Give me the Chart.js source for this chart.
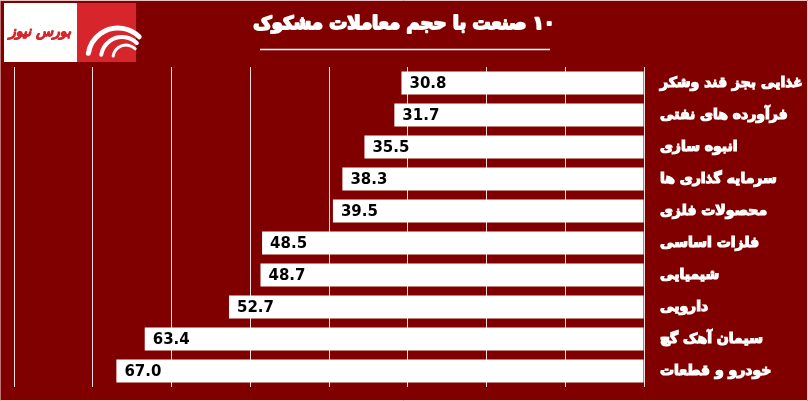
<!DOCTYPE html>
<html>
<head>
<meta charset="utf-8">
<script src="https://cdn.jsdelivr.net/npm/chart.js@4.4.0/dist/chart.umd.min.js"></script>
<style>
  html, body { margin: 0; padding: 0; background: #800000; }
  #wrap { width: 808px; height: 401px; position: relative; }
</style>
</head>
<body>
<div id="wrap"><canvas id="suspect-chart" width="808" height="401"></canvas></div>
<script>
// data
const industries = ['غذایی بجز قند وشکر', 'فرآورده های نفتی', 'انبوه سازی', 'سرمایه گذاری ها', 'محصولات فلزی',
                    'فلزات اساسی', 'شیمیایی', 'دارویی', 'سیمان آهک گچ', 'خودرو و قطعات'];
const volumes = [30.8, 31.7, 35.5, 38.3, 39.5, 48.5, 48.7, 52.7, 63.4, 67.0];
const axisMax = 80;
const axisStep = 10;
const chartTitle = '۱۰ صنعت با حجم معاملات مشکوک';
const logoText = 'بورس نیوز';

// value labels at the open end of each bar
const barValues = {
    id: 'barValues',
    afterDatasetsDraw(chart) {
        const ctx = chart.ctx;
        const meta = chart.getDatasetMeta(0);
        ctx.save();
        ctx.fillStyle = '#000';
        ctx.font = 'bold 15px "DejaVu Sans"';
        ctx.textAlign = 'left';
        ctx.textBaseline = 'middle';
        meta.data.forEach(function (bar, i) {
            ctx.fillText(volumes[i].toFixed(1), bar.x + 8, bar.y + 1);
        });
        ctx.restore();
    }
};

// title, underline, logo and frame
const decor = {
    id: 'decor',
    beforeDraw(chart) {
        const ctx = chart.ctx;
        ctx.save();
        ctx.fillStyle = '#800000';
        ctx.fillRect(0, 0, chart.width, chart.height);
        ctx.restore();
    },
    afterDraw(chart) {
        const ctx = chart.ctx;
        ctx.save();
        // title
        ctx.direction = 'rtl';
        ctx.fillStyle = '#fff';
        ctx.strokeStyle = '#fff';
        ctx.lineWidth = 1.8;
        ctx.lineJoin = 'round';
        ctx.font = 'bold 18px "DejaVu Sans"';
        ctx.textAlign = 'center';
        ctx.textBaseline = 'middle';
        ctx.strokeText(chartTitle, 404, 24);
        ctx.fillText(chartTitle, 404, 24);
        ctx.lineWidth = 1.5;
        ctx.beginPath();
        ctx.moveTo(260, 49.5);
        ctx.lineTo(550, 49.5);
        ctx.stroke();

        // logo
        ctx.fillStyle = '#fff';
        ctx.fillRect(4, 3, 132, 59);
        ctx.fillStyle = '#d7262b';
        ctx.fillRect(77, 3, 59, 59);
        ctx.strokeStyle = '#fff';
        ctx.lineCap = 'round';
        [[118, 58, 30, 5], [122, 58, 21, 4], [126, 58, 13, 3]].forEach(function (a) {
            ctx.lineWidth = a[3];
            ctx.beginPath();
            ctx.arc(a[0], a[1], a[2], Math.PI * 1.05, Math.PI * 1.75);
            ctx.stroke();
        });
        ctx.fillStyle = '#d7262b';
        ctx.strokeStyle = '#d7262b';
        ctx.lineWidth = 0.8;
        ctx.font = 'italic bold 14px "DejaVu Sans"';
        ctx.textAlign = 'center';
        ctx.strokeText(logoText, 40, 32);
        ctx.fillText(logoText, 40, 32);

        // frame
        ctx.strokeStyle = '#e9c4c4';
        ctx.lineWidth = 1;
        ctx.strokeRect(0.5, 0.5, chart.width - 1, chart.height - 1);
        ctx.restore();
    }
};

const ctx = document.getElementById('suspect-chart').getContext('2d');
var chart = new Chart(ctx, {
    type: 'bar',
    data: {
        labels: industries,
        datasets: [
            {
                data: volumes,
                backgroundColor: '#fff',
                borderWidth: 0,
                categoryPercentage: 1,
                barPercentage: 0.72,
            },
        ],
    },
    plugins: [decor, barValues],
    options: {
        responsive: false,
        animation: false,
        indexAxis: 'y',
        layout: { padding: { top: 67, left: 14, bottom: 14, right: 0 } },
        plugins: {
            legend: { display: false },
            title: { display: false },
            tooltip: { enabled: false },
        },
        scales: {
            x: {
                reverse: true,
                min: 0,
                max: axisMax,
                ticks: { display: false, stepSize: axisStep },
                grid: { color: '#f3dede', lineWidth: 1, drawTicks: false },
                border: { display: false },
                afterFit: function (scale) {
                    scale.height = 0;
                    scale.paddingLeft = 0;
                    scale.paddingRight = 0;
                },
            },
            y: {
                position: 'right',
                grid: { display: false, drawTicks: false },
                border: { display: false },
                ticks: {
                    color: '#fff',
                    textStrokeColor: '#fff',
                    textStrokeWidth: 1.2,
                    padding: 16,
                    font: { family: 'DejaVu Sans', weight: 'bold', size: 14 },
                },
                afterFit: function (scale) {
                    scale.width = 164;
                    scale.paddingTop = 0;
                    scale.paddingBottom = 0;
                },
            },
        },
    },
});
</script>
</body>
</html>
